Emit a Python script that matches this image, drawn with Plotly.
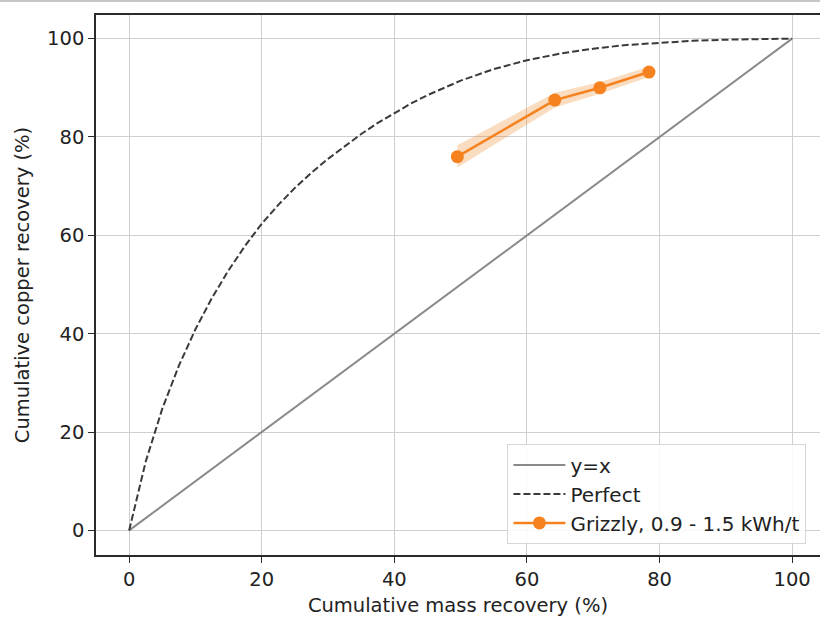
import plotly.graph_objects as go

# ---- data ----
diag_x = [0, 100]
diag_y = [0, 100]

perfect_x = [0, 2.5, 5, 7.5, 10, 12.5, 15, 17.5, 20, 22.5, 25, 27.5, 30, 32.5,
             35, 37.5, 40, 42.5, 45, 47.5, 50, 55, 60, 65, 70, 75, 80, 85, 90,
             95, 100]
perfect_y = [0, 14.0, 24.75, 33.5, 40.9, 47.3, 52.9, 57.9, 62.35, 66.2, 69.65,
             72.75, 75.55, 78.15, 80.6, 82.85, 84.9, 86.8, 88.5, 90.05, 91.45,
             93.8, 95.6, 96.95, 97.95, 98.7, 99.2, 99.55, 99.78, 99.92, 100]

grizzly_x = [49.5, 64.2, 71.0, 78.4]
grizzly_y = [76.0, 87.5, 90.0, 93.2]
grizzly_lo = [73.8, 86.0, 88.8, 92.2]
grizzly_hi = [78.3, 89.0, 91.2, 94.3]

x_ticks = [0, 20, 40, 60, 80, 100]
y_ticks = [0, 20, 40, 60, 80, 100]

FONT = "DejaVu Sans"
FS = 19.5

fig = go.Figure()

# uncertainty band
fig.add_trace(go.Scatter(
    x=grizzly_x + grizzly_x[::-1],
    y=grizzly_hi + grizzly_lo[::-1],
    fill="toself", fillcolor="rgba(240,140,50,0.30)",
    line=dict(width=0), mode="lines", showlegend=False, hoverinfo="skip"))

fig.add_trace(go.Scatter(
    x=diag_x, y=diag_y, mode="lines", name="y=x",
    line=dict(color="#8a8a8a", width=2), legendgroup="a", legendrank=1))

fig.add_trace(go.Scatter(
    x=perfect_x, y=perfect_y, mode="lines", name="Perfect",
    line=dict(color="#3a3a3a", width=2, dash="7px,3px"),
    legendgroup="b", legendrank=2))

fig.add_trace(go.Scatter(
    x=grizzly_x, y=grizzly_y, mode="lines+markers", name="Grizzly, 0.9 - 1.5 kWh/t",
    line=dict(color="#f5821f", width=2.5),
    marker=dict(color="#f5821f", size=13),
    legendgroup="c", legendrank=3))

axis_common = dict(
    showgrid=True, gridcolor="#cfcfcf", gridwidth=1.3,
    zeroline=False, showline=True, linecolor="#2b2b2b", linewidth=1.6,
    ticks="outside", ticklen=6, tickwidth=1.3, tickcolor="#2b2b2b",
    tickfont=dict(family=FONT, size=FS, color="#222"),
)

fig.update_xaxes(
    range=[-5, 104.2], tickvals=x_ticks, mirror=True,
    title=dict(text="Cumulative mass recovery (%)",
               font=dict(family=FONT, size=FS, color="#222"), standoff=8),
    **axis_common)
fig.update_yaxes(
    range=[-5, 104.8], tickvals=y_ticks, mirror=False,
    title=dict(text="Cumulative copper recovery (%)",
               font=dict(family=FONT, size=FS, color="#222"), standoff=12),
    **axis_common)

# thin gray line at the very top of the image
fig.add_shape(type="line", xref="paper", yref="paper",
              x0=-0.2, x1=1.1, y0=(555 - 1) / 540, y1=(555 - 1) / 540,
              line=dict(color="#b5b5b5", width=1.5))

fig.update_layout(
    width=820, height=617,
    margin=dict(l=96, r=0, t=15, b=62, autoexpand=False),
    paper_bgcolor="white", plot_bgcolor="white",
    font=dict(family=FONT, size=FS, color="#222"),
    legend=dict(
        x=0.568, y=0.02, xanchor="left", yanchor="bottom",
        bgcolor="rgba(255,255,255,0.85)", bordercolor="#d6d6d6", borderwidth=1.2,
        font=dict(family=FONT, size=20, color="#222"),
        traceorder="grouped", tracegroupgap=0, itemwidth=52,
    ),
)

fig.write_html("out.html")
